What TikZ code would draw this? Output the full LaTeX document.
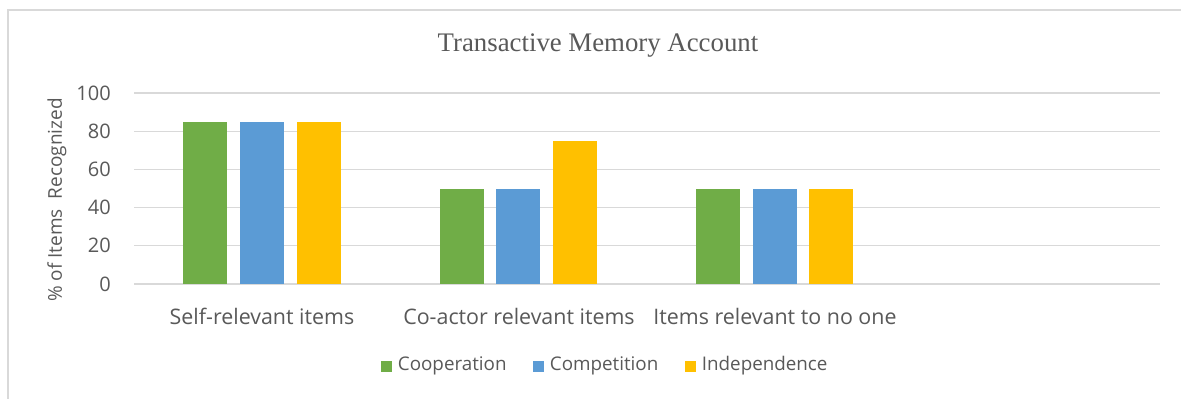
\documentclass[tikz,border=0pt]{standalone}
\usepackage{fontspec}
\setmainfont{Liberation Serif}
\newfontfamily\chartfont{Open Sans}
\usetikzlibrary{positioning}
\definecolor{coopgreen}{HTML}{70AD47}
\definecolor{compblue}{HTML}{5B9BD5}
\definecolor{indepyellow}{HTML}{FFC000}
\definecolor{gridgray}{HTML}{D9D9D9}
\definecolor{labelgray}{HTML}{595959}
\newcommand{\chartbar}[3]{\fill[#1] (#2,284) rectangle ++(44,{-#3*1.91});}
\begin{document}
\begin{tikzpicture}[x=1pt,y=-1pt,
                tick/.style={anchor=east, inner sep=0pt, text=labelgray, font=\chartfont\fontsize{20}{24}\selectfont},
                category/.style={anchor=center, inner sep=0pt, text=labelgray, font=\chartfont\fontsize{21.4}{26}\selectfont},
                legend entry/.style={anchor=west, inner sep=0pt, text=labelgray, font=\chartfont\fontsize{18.8}{24}\selectfont},
                swatch/.style={minimum size=11pt, inner sep=0pt}]
            \useasboundingbox (0,0) rectangle (1181,399);
            \fill[white] (0,0) rectangle (1181,399);
            % chart frame
            \draw[gridgray, line width=1.5pt] (8,399) -- (8,10) -- (1181,10);

            % gridlines and ticks
            \foreach \v in {0,20,...,100} {
                \draw[gridgray, line width=1.3pt] (134,{284-\v*1.91}) -- (1160,{284-\v*1.91});
                \node[tick] (tick\v) at (111,{284-\v*1.91}) {\v};
            }

            % bars
            \chartbar{coopgreen}{183}{85}
            \chartbar{compblue}{240}{85}
            \chartbar{indepyellow}{297}{85}
            \chartbar{coopgreen}{440}{50}
            \chartbar{compblue}{496}{50}
            \chartbar{indepyellow}{553}{75}
            \chartbar{coopgreen}{696}{50}
            \chartbar{compblue}{753}{50}
            \chartbar{indepyellow}{809}{50}

            \node[font=\fontsize{26.8}{30}\selectfont, text=labelgray] (title) at (598,46) {Transactive Memory Account};
            \node[rotate=90, inner sep=0pt, text=labelgray, font=\chartfont\fontsize{19}{24}\selectfont] (ylabel) at (57,200) {\%~of Items~~Recognized};

            \node[category] (self) at (262,316) {Self-relevant items};
            \node[category] (coactor) at (519,316) {Co-actor relevant items};
            \node[category] (noone) at (775,316) {Items relevant to no one};

            % legend
            \node[swatch, fill=coopgreen] (sw1) at (386,366) {};
            \node[legend entry, right=6pt of sw1] (coop) {Cooperation};
            \node[swatch, fill=compblue] (sw2) at (538,366) {};
            \node[legend entry, right=6pt of sw2] (comp) {Competition};
            \node[swatch, fill=indepyellow] (sw3) at (690,366) {};
            \node[legend entry, right=6pt of sw3] (indep) {Independence};
        \end{tikzpicture}
\end{document}
